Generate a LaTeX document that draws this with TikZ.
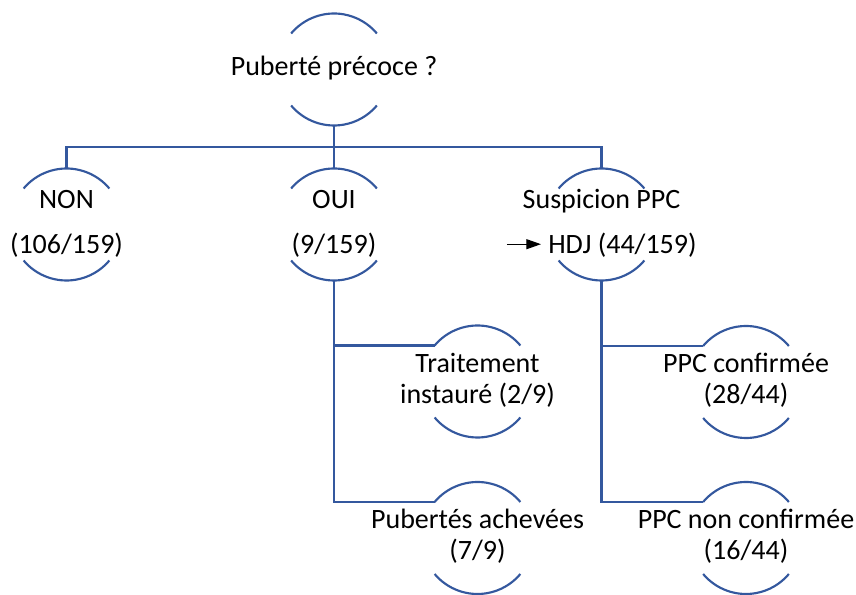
\documentclass[tikz,border=0pt]{standalone}
\usepackage{fontspec}
\setmainfont{Carlito}
\usetikzlibrary{arrows.meta}
\definecolor{arcblue}{RGB}{52,88,158}
\newcommand{\celltxt}[1]{\makebox[0pt]{\begin{tabular}{@{}c@{}}#1\end{tabular}}}
\begin{document}
\begin{tikzpicture}[x=0.75pt,y=0.75pt,
  circ/.style={circle, minimum size=84pt, inner sep=0pt, outer sep=0pt,
    font=\fontsize{21}{23.5}\selectfont, text=black},
  conn/.style={draw=arcblue, line width=1.6pt, line join=miter},
  arcline/.style={draw=arcblue, line width=1.6pt},
]
\useasboundingbox (0,0) rectangle (856,595);
\node[circ] (top) at (334,525.5) {\celltxt{Puberté précoce ?}};
\node[circ] (non) at (66.5,370.5) {\celltxt{NON\\[10.25pt](106/159)}};
\node[circ] (oui) at (334,370.5) {\celltxt{OUI\\[10.25pt](9/159)}};
\node[circ] (sus) at (601.5,370.5) {\celltxt{Suspicion PPC\\[10.25pt]\tikz[baseline=-6.8pt]\draw[line width=0.9pt,-{Triangle[length=11pt,width=7.5pt]}] (0,0)--(25.5pt,0);\hspace{5pt}HDJ (44/159)}};
\node[circ] (trt) at (477.5,213.5) {\celltxt{Traitement\\instauré (2/9)}};
\node[circ] (pub) at (477.5,57) {\celltxt{Pubertés achevées\\(7/9)}};
\node[circ] (conf) at (746,213) {\celltxt{PPC confirmée\\(28/44)}};
\node[circ] (nconf) at (746,57) {\celltxt{PPC non confirmée\\(16/44)}};
\foreach \n in {top,non,oui,sus,trt,pub,conf,nconf}{
  \draw[arcline] (\n.140) arc[start angle=140,end angle=40,radius=56];
  \draw[arcline] (\n.-140) arc[start angle=-140,end angle=-40,radius=56];
}
\coordinate (bus) at (334,448);
\draw[conn] (top.south) -- (bus);
\draw[conn] (bus) -| (non.north);
\draw[conn] (bus) -| (sus.north);
\draw[conn] (bus) -- (oui.north);
\draw[conn] (oui.south) |- (trt.140);
\draw[conn] (oui.south) |- (pub.140);
\draw[conn] (sus.south) |- (conf.140);
\draw[conn] (sus.south) |- (nconf.140);
\end{tikzpicture}
\end{document}
